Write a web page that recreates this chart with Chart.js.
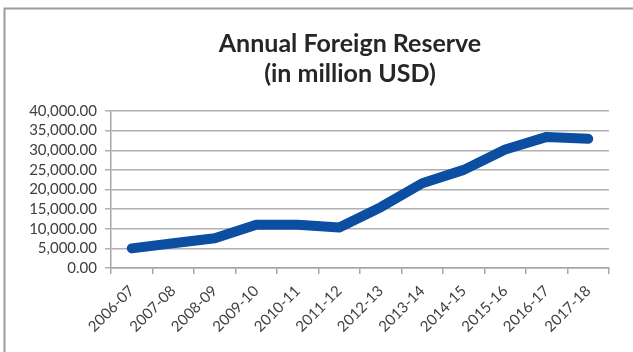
<!DOCTYPE html>
<html>
<head>
<meta charset="utf-8">
<script src="https://cdn.jsdelivr.net/npm/chart.js@4/dist/chart.umd.min.js"></script>
<style>
  html, body { margin: 0; padding: 0; background: #fff; }
  #wrap { position: relative; width: 633px; height: 352px; }
</style>
</head>
<body>
<div id="wrap"><canvas id="chart-reservas" width="633" height="352"></canvas></div>
<script>
// =============================
// DATOS
// =============================
const anios = ["2006-07", "2007-08", "2008-09", "2009-10", "2010-11", "2011-12",
  "2012-13", "2013-14", "2014-15", "2015-16", "2016-17", "2017-18"];
const reservas = [5000, 6300, 7600, 11000, 11000, 10300, 15500, 21600, 25000, 30200, 33400, 32900];
const tituloLineas = ["Annual Foreign Reserve", "(in million USD)"];

// =============================
// PLUGINS
// =============================
const marcoYTitulo = {
  id: "marcoYTitulo",
  beforeDraw(chart) {
    const ctx = chart.ctx;
    ctx.save();
    ctx.strokeStyle = "#9c9c9c";
    ctx.lineWidth = 2;
    ctx.beginPath();
    ctx.moveTo(4.5, 352);
    ctx.lineTo(4.5, 8.5);
    ctx.lineTo(633, 8.5);
    ctx.stroke();
    ctx.restore();
  },
  afterDraw(chart) {
    const ctx = chart.ctx;
    ctx.save();
    ctx.fillStyle = "#262626";
    ctx.font = "bold 25px Lato";
    ctx.textAlign = "center";
    ctx.textBaseline = "alphabetic";
    ctx.fillText(tituloLineas[0], 350, 52);
    ctx.fillText(tituloLineas[1], 350, 82);
    ctx.restore();
  }
};

// =============================
// GRAFICO
// =============================
new Chart(document.getElementById("chart-reservas"), {
  type: "line",
  data: {
    labels: anios,
    datasets: [{
      data: reservas,
      borderColor: "#0b4ea2",
      borderWidth: 10,
      borderCapStyle: "round",
      borderJoinStyle: "round",
      tension: 0,
      pointRadius: 0,
      fill: false
    }]
  },
  options: {
    responsive: false,
    animation: false,
    plugins: {
      legend: { display: false },
      tooltip: { enabled: false },
      title: { display: false }
    },
    layout: {
      padding: { top: 111, right: 24, left: 0, bottom: 0 }
    },
    scales: {
      x: {
        offset: true,
        grid: {
          offset: true,
          drawOnChartArea: false,
          drawTicks: true,
          tickLength: 6,
          color: "#a6a6a6",
          lineWidth: 1.5
        },
        border: { display: true, color: "#a6a6a6", width: 1.5 },
        ticks: {
          color: "#404040",
          font: { family: "Lato", size: 15 },
          minRotation: 45,
          maxRotation: 45,
          autoSkip: false,
          padding: 8
        },
        afterFit(scale) { scale.height = 84; }
      },
      y: {
        min: 0,
        max: 40000,
        grid: {
          color: "#b0b0b0",
          lineWidth: 1.5,
          tickLength: 6
        },
        border: { display: true, color: "#a6a6a6", width: 1.5 },
        ticks: {
          stepSize: 5000,
          autoSkip: false,
          color: "#404040",
          font: { family: "Lato", size: 15 },
          padding: 8,
          callback: v => v.toLocaleString("en-US", { minimumFractionDigits: 2, maximumFractionDigits: 2 })
        },
        afterFit(scale) { scale.width = 111; }
      }
    }
  },
  plugins: [marcoYTitulo]
});
</script>
</body>
</html>
